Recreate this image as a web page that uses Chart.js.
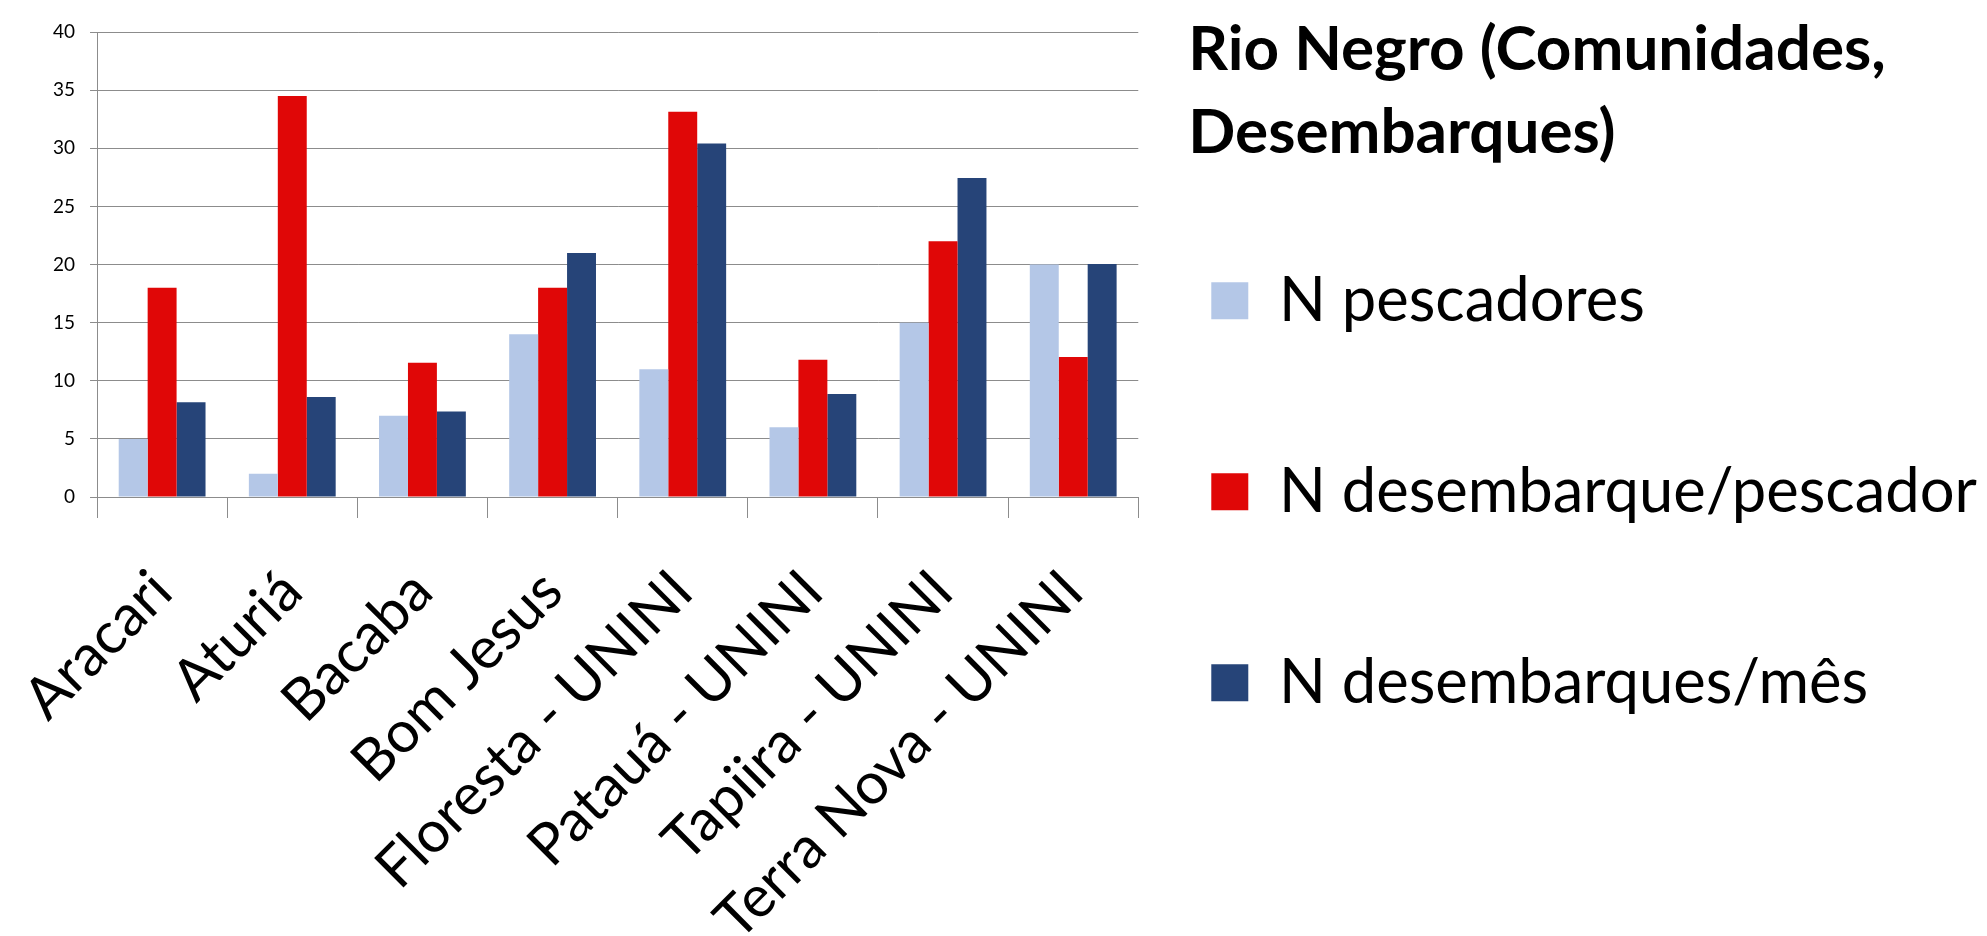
<!DOCTYPE html>
<html lang="pt">
<head>
  <meta charset="UTF-8" />
  <title>Rio Negro (Comunidades, Desembarques)</title>
  <script src="https://cdn.jsdelivr.net/npm/chart.js"></script>
  <style>
    html, body { margin: 0; padding: 0; background: #fff; }
    .chart-wrap { width: 1987px; height: 936px; position: relative; }
  </style>
</head>
<body>
  <div class="chart-wrap">
    <canvas id="rioNegroChart"></canvas>
  </div>

  <script>
    // dados
    const comunidades = ['Aracari', 'Aturiá', 'Bacaba', 'Bom Jesus', 'Floresta - UNINI', 'Patauá - UNINI', 'Tapiira - UNINI', 'Terra Nova - UNINI'];
    const nPescadores = [5, 2, 7, 14, 11, 6, 15, 20];
    const nDesembarquePescador = [18, 34.5, 11.55, 18, 33.15, 11.8, 22, 12.05];
    const nDesembarquesMes = [8.15, 8.6, 7.35, 21, 30.4, 8.85, 27.45, 20.05];
    const nomesSeries = ['N pescadores', 'N desembarque/pescador', 'N desembarques/mês'];
    const tituloLinhas = ['Rio Negro (Comunidades,', 'Desembarques)'];
    const yMin = 0, yMax = 40, yPasso = 5;

    const cores = ['#b4c7e7', '#e00707', '#264478'];
    const cinza = '#8c8c8c';
    const fonte = 'Lato';

    // eixos vazios so para abrir espaco (acima do grafico e antes da legenda)
    const espacador = (medida, valor) => ({
      type: 'linear',
      grid: { display: false },
      border: { display: false },
      ticks: { display: false },
      afterFit(scale) { scale[medida] = valor; }
    });

    const ctx = document.getElementById('rioNegroChart').getContext('2d');
    new Chart(ctx, {
      type: 'bar',
      data: {
        labels: comunidades,
        datasets: [
          { label: nomesSeries[0], data: nPescadores, backgroundColor: cores[0] },
          { label: nomesSeries[1], data: nDesembarquePescador, backgroundColor: cores[1] },
          { label: nomesSeries[2], data: nDesembarquesMes, backgroundColor: cores[2] }
        ]
      },
      options: {
        responsive: true,
        maintainAspectRatio: false,
        animation: false,
        datasets: {
          bar: { categoryPercentage: 0.667, barPercentage: 1.0, borderWidth: 0 }
        },
        layout: { padding: { left: 38, top: 10, right: 0, bottom: 0 } },
        plugins: {
          tooltip: { enabled: false },
          legend: {
            position: 'right',
            align: 'start',
            maxWidth: 900,
            title: {
              display: true,
              text: tituloLinhas,
              position: 'start',
              color: '#000',
              font: { family: fonte, weight: 'bold', size: 62, lineHeight: 83 / 62 },
              padding: { top: 9, bottom: 145 }
            },
            labels: {
              color: '#000',
              boxWidth: 37,
              boxHeight: 37,
              padding: 23,
              font: { family: fonte, size: 61.5, lineHeight: 168 / 61.5 },
              // texto como lista de uma linha -> a altura usa o lineHeight da fonte
              generateLabels(chart) {
                const base = Chart.defaults.plugins.legend.labels.generateLabels(chart);
                return base.map(item => ({ ...item, text: [item.text] }));
              }
            }
          }
        },
        scales: {
          x: {
            grid: { display: true, drawOnChartArea: false, drawTicks: true, tickLength: 21, color: cinza, offset: true },
            border: { display: true, color: cinza },
            ticks: {
              autoSkip: false,
              minRotation: 45,
              maxRotation: 45,
              padding: 39,
              color: '#000',
              font: { family: fonte, size: 58 }
            },
            afterFit(scale) {
              scale.height = 439;
              // os rotulos inclinados podem passar da borda esquerda, como no original
              scale.paddingLeft = 0;
              scale.paddingRight = 0;
            }
          },
          y: {
            min: yMin,
            max: yMax,
            ticks: { stepSize: yPasso, padding: 15, color: '#000', font: { family: fonte, size: 19 } },
            grid: { color: cinza, tickLength: 7 },
            border: { color: cinza }
          },
          espacoTopo: { ...espacador('height', 22), position: 'top' },
          espacoDireita: { ...espacador('width', 50), position: 'right' }
        }
      }
    });
  </script>
</body>
</html>
